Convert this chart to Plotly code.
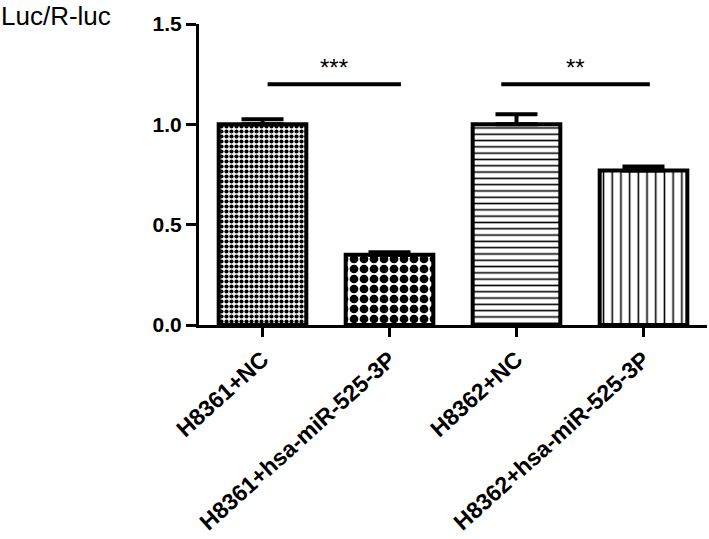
import plotly.graph_objects as go

categories = ["H8361+NC", "H8361+hsa-miR-525-3P", "H8362+NC", "H8362+hsa-miR-525-3P"]
values = [1.0, 0.35, 1.0, 0.77]
errors = [0.025, 0.012, 0.05, 0.02]
patterns = [".", ".", "-", "|"]
pattern_sizes = [5, 10, 6.3, 8.7]
pattern_solidity = [0.55, 0.6, 0.25, 0.18]
sig_lines = [(0.04, 1.09), (1.88, 3.05)]
sig_labels = ["***", "**"]
sig_level = 1.2

xs = list(range(len(categories)))
font_family = "Arial, Liberation Sans, Helvetica, sans-serif"
fig = go.Figure()
for i in xs:
    fig.add_trace(go.Bar(
        x=[i], y=[values[i]], width=0.69,
        marker=dict(color="white", line=dict(color="black", width=4),
                    pattern=dict(shape=patterns[i], size=pattern_sizes[i],
                                 solidity=pattern_solidity[i],
                                 fgcolor="black", bgcolor="white", fgopacity=1,
                                 fillmode="overlay")),
        error_y=dict(type="data", array=[errors[i]], arrayminus=[0], symmetric=False,
                     color="black", thickness=4, width=21),
        showlegend=False,
    ))

for (x0, x1), lab in zip(sig_lines, sig_labels):
    fig.add_shape(type="line", x0=x0, x1=x1, y0=sig_level, y1=sig_level,
                  line=dict(color="black", width=4))
    fig.add_annotation(x=(x0 + x1) / 2, y=sig_level, text=lab, showarrow=False,
                       yanchor="bottom", yshift=1,
                       font=dict(family=font_family, size=24, color="black"))

fig.add_annotation(xref="paper", yref="paper", x=-0.394, y=1.028, xanchor="left", yanchor="middle",
                   text="Luc/R-luc", showarrow=False,
                   font=dict(family=font_family, size=26, color="black"))

fig.update_layout(
    width=709, height=539,
    margin=dict(l=199, r=2, t=24, b=214),
    plot_bgcolor="white", paper_bgcolor="white",
    font=dict(family=font_family, color="black"),
    xaxis=dict(range=[-0.5, 3.5], tickvals=xs, ticktext=categories, tickangle=-42,
               showline=True, linecolor="black", linewidth=3, ticks="outside",
               ticklen=9, tickwidth=3, tickcolor="black", showgrid=False, zeroline=False,
               automargin=False,
               tickfont=dict(family=font_family, size=23, weight="bold")),
    yaxis=dict(range=[0, 1.5], tickvals=[0, 0.5, 1.0, 1.5], ticktext=["0.0", "0.5", "1.0", "1.5"],
               showline=True, linecolor="black", linewidth=3, ticks="outside",
               ticklen=10, tickwidth=3, tickcolor="black", showgrid=False, zeroline=False,
               automargin=False,
               tickfont=dict(family=font_family, size=21, weight="bold")),
)
fig.write_html("out.html", config={"displayModeBar": False},
               post_script="document.body.style.margin='0';")
